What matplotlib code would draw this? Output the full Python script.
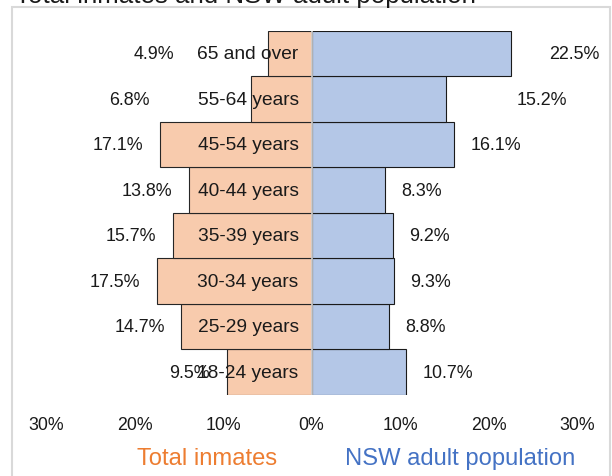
import matplotlib
matplotlib.use("Agg")
import matplotlib.pyplot as plt
from matplotlib.patches import Rectangle

plt.rcParams["font.family"] = ["Liberation Sans", "DejaVu Sans"]

# age groups, bottom to top
categories = ["18-24 years", "25-29 years", "30-34 years", "35-39 years",
              "40-44 years", "45-54 years", "55-64 years", "65 and over"]
inmates = [9.5, 14.7, 17.5, 15.7, 13.8, 17.1, 6.8, 4.9]
nsw_adults = [10.7, 8.8, 9.3, 9.2, 8.3, 16.1, 15.2, 22.5]
tick_values = [-30, -20, -10, 0, 10, 20, 30]
tick_labels = ["30%", "20%", "10%", "0%", "10%", "20%", "30%"]

# where the value labels sit (in % from zero), as in the source chart
inmate_label_x = [11.5, 16.5, 19.4, 17.6, 15.7, 19.0, 18.3, 15.5]
nsw_label_x = [12.6, 10.6, 11.1, 11.05, 10.1, 18.0, 23.2, 26.9]

ORANGE_FILL = "#F8CBAD"
BLUE_FILL = "#B4C7E7"
ORANGE_TEXT = "#ED7D31"
BLUE_TEXT = "#4472C4"
INK = "#1A1A1A"

fig = plt.figure(figsize=(6.12, 4.77), dpi=100, facecolor="white")

# light chart frame, running off the bottom edge
fig.patches.append(Rectangle((11.5 / 612, -0.05), (610 - 11.5) / 612, 1.05 - 7.5 / 477,
                             transform=fig.transFigure, fill=False,
                             edgecolor="#D9D9D9", linewidth=1.5, clip_on=False))

fig.text(15 / 612, 1 - 3 / 477, "Total inmates and NSW adult population",
         fontsize=18.6, color=INK, va="baseline", ha="left")

ax = fig.add_axes([46 / 612, 1 - 396 / 477, (577 - 46) / 612, (396 - 31.7) / 477])
ypos = list(range(len(categories)))

ax.barh(ypos, [-v for v in inmates], height=1.0, color=ORANGE_FILL,
        edgecolor="#262626", linewidth=0.8, zorder=2)
ax.barh(ypos, nsw_adults, height=1.0, color=BLUE_FILL,
        edgecolor="#1A1A1A", linewidth=0.8, zorder=2)
ax.axvline(0, color="#D0D0D0", linewidth=1.2, zorder=3)

for y, cat, v, lx in zip(ypos, categories, inmates, inmate_label_x):
    ax.text(-1.45, y, cat, ha="right", va="center", fontsize=13.8, color=INK, zorder=4)
    ax.text(-lx, y, f"{v:.1f}%", ha="right", va="center", fontsize=12.9, color=INK, zorder=4)
for y, v, lx in zip(ypos, nsw_adults, nsw_label_x):
    ax.text(lx, y, f"{v:.1f}%", ha="left", va="center", fontsize=12.9, color=INK, zorder=4)

ax.set_xlim(-30, 30)
ax.set_ylim(-0.5, len(categories) - 0.5)
ax.set_xticks(tick_values)
ax.set_xticklabels(tick_labels)
ax.set_yticks([])
ax.tick_params(axis="x", length=0, pad=15, labelsize=12.8, labelcolor=INK)
for spine in ax.spines.values():
    spine.set_visible(False)
ax.set_facecolor("none")

fig.text(137 / 612, 1 - 465 / 477, "Total inmates", color=ORANGE_TEXT,
         fontsize=17.1, ha="left", va="baseline")
fig.text(345 / 612, 1 - 465 / 477, "NSW adult population", color=BLUE_TEXT,
         fontsize=17.1, ha="left", va="baseline")

fig.savefig("out.png", dpi=100, facecolor=fig.get_facecolor())
plt.close(fig)
